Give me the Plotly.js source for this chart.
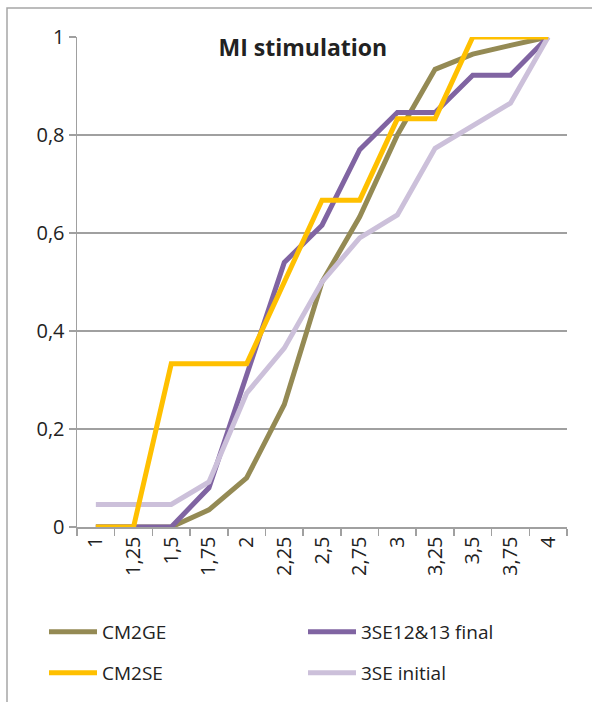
<!DOCTYPE html>
<html>
<head>
<meta charset="utf-8">
<script src="https://cdn.plot.ly/plotly-3.0.1.min.js"></script>
<style>html,body{margin:0;padding:0;background:#fff;}#chart{width:592px;height:702px;}</style>
</head>
<body>
<div id="chart"></div>
<script>
const categories = ["1","1,25","1,5","1,75","2","2,25","2,5","2,75","3","3,25","3,5","3,75","4"];
const cm2ge      = [0, 0, 0, 0.035, 0.10, 0.25, 0.50, 0.633, 0.80, 0.934, 0.965, 0.983, 1];
const se3final   = [0, 0, 0, 0.08, 0.31, 0.54, 0.616, 0.77, 0.846, 0.846, 0.922, 0.922, 1];
const cm2se      = [0, 0, 0.333, 0.333, 0.333, 0.50, 0.667, 0.667, 0.833, 0.833, 1, 1, 1];
const se3initial = [0.046, 0.046, 0.046, 0.092, 0.273, 0.365, 0.50, 0.59, 0.637, 0.773, 0.818, 0.865, 1];
const seriesNames = ["CM2GE", "3SE12&13 final", "CM2SE", "3SE initial"];
const yTicks = [0, 0.2, 0.4, 0.6, 0.8, 1];

const FONT = "Open Sans, Noto Sans, sans-serif";
const colors = ["#948A54", "#8064A2", "#FFC000", "#CCC0DA"];
const series = [cm2ge, se3final, cm2se, se3initial];
const legendIds = ["legend", "legend2", "legend3", "legend4"];
// legend slot positions (pixels): line start x, row centre y
const legendPos = [[50, 632], [309, 632], [50, 673], [309, 673]];
// draw order: olive, purple, lavender, yellow on top
const order = [0, 1, 3, 2];

const traces = order.map(i => ({
  type: "scatter", mode: "lines",
  x: categories, y: series[i], name: seriesNames[i],
  line: {color: colors[i], width: 5},
  legend: legendIds[i]
}));

const layout = {
  width: 592, height: 702,
  margin: {l: 77, r: 25, t: 37, b: 175},
  paper_bgcolor: "#fff", plot_bgcolor: "#fff",
  separators: ",.",
  font: {family: FONT, size: 18, color: "#222"},
  showlegend: true,
  title: {
    text: "<b>MI stimulation</b>",
    font: {family: FONT, size: 23, color: "#222"},
    xref: "paper", x: 0.461, xanchor: "center",
    yref: "container", y: 1 - 48/702, yanchor: "middle"
  },
  xaxis: {
    type: "category", range: [-0.5, 12.5],
    tickson: "boundaries", ticks: "outside", ticklen: 7, tickcolor: "#a0a0a0", tickwidth: 1.5,
    showline: true, linecolor: "#a0a0a0", linewidth: 1.5,
    showgrid: false, tickangle: -90,
    tickfont: {family: FONT, size: 20, color: "#222"}
  },
  yaxis: {
    range: [0, 1], tickvals: yTicks,
    ticks: "outside", ticklen: 7, tickcolor: "#a0a0a0", tickwidth: 1.5,
    showline: true, linecolor: "#a0a0a0", linewidth: 1.5,
    showgrid: true, gridcolor: "#a0a0a0", gridwidth: 1.5, zeroline: false,
    tickfont: {family: FONT, size: 20, color: "#222"}
  },
  shapes: [{
    type: "rect", xref: "paper", yref: "paper",
    x0: (7 - 77)/490, x1: (620 - 77)/490, y0: (527 - 740)/490, y1: (527 - 8)/490,
    line: {color: "#a6a6a6", width: 1.5}, layer: "below"
  }]
};

legendIds.forEach((id, i) => {
  layout[id] = {
    orientation: "h", xref: "container", yref: "container",
    x: (legendPos[i][0] - 6)/592, xanchor: "left",
    y: 1 - legendPos[i][1]/702, yanchor: "middle",
    itemwidth: 48,
    font: {family: FONT, size: 19, color: "#222"}, bgcolor: "rgba(0,0,0,0)"
  };
});

Plotly.newPlot("chart", traces, layout, {displayModeBar: false, staticPlot: true});
</script>
</body>
</html>
